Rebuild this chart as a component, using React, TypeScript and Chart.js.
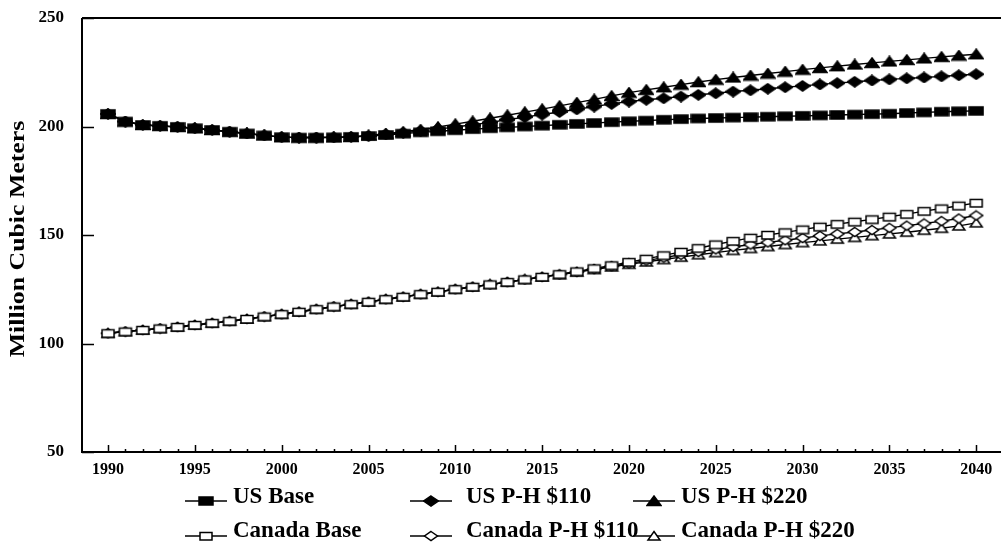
import React, { useEffect, useRef } from "react";
import { Chart, registerables } from "chart.js";

Chart.register(...registerables);

const years = [
  1990, 1991, 1992, 1993, 1994, 1995, 1996, 1997, 1998, 1999,
  2000, 2001, 2002, 2003, 2004, 2005, 2006, 2007, 2008, 2009,
  2010, 2011, 2012, 2013, 2014, 2015, 2016, 2017, 2018, 2019,
  2020, 2021, 2022, 2023, 2024, 2025, 2026, 2027, 2028, 2029,
  2030, 2031, 2032, 2033, 2034, 2035, 2036, 2037, 2038, 2039, 2040,
];
const xTickLabels = [1990, 1995, 2000, 2005, 2010, 2015, 2020, 2025, 2030, 2035, 2040];
const yTickLabels = [50, 100, 150, 200, 250];
const yAxisTitle = "Million Cubic Meters";

const usBase = [
  205.8, 202.3, 200.7, 200.3, 199.8, 199.2, 198.4, 197.6, 196.8, 195.9,
  195.1, 194.9, 194.9, 195.0, 195.2, 195.6, 196.1, 196.7, 197.3, 197.8,
  198.3, 198.8, 199.2, 199.6, 200.0, 200.4, 200.8, 201.2, 201.6, 202.0,
  202.4, 202.7, 203.1, 203.4, 203.7, 203.9, 204.1, 204.3, 204.5, 204.7,
  204.9, 205.1, 205.3, 205.5, 205.7, 205.9, 206.2, 206.5, 206.8, 207.0, 207.2,
];
const usPH110 = [
  205.8, 202.3, 200.7, 200.3, 199.8, 199.2, 198.4, 197.6, 196.8, 195.9,
  195.1, 194.9, 194.9, 195.0, 195.2, 195.6, 196.4, 197.1, 197.9, 198.8,
  199.8, 200.8, 201.9, 203.1, 204.3, 205.5, 206.7, 207.9, 209.2, 210.4,
  211.5, 212.3, 213.0, 213.8, 214.6, 215.3, 216.1, 216.7, 217.4, 218.1,
  218.7, 219.4, 220.0, 220.6, 221.2, 221.7, 222.2, 222.6, 223.1, 223.6, 224.1,
];
const usPH220 = [
  205.8, 202.3, 200.7, 200.3, 199.8, 199.2, 198.4, 197.6, 196.8, 195.9,
  195.1, 194.9, 194.9, 195.0, 195.2, 195.9, 196.7, 197.6, 198.6, 199.8,
  201.1, 202.4, 203.8, 205.2, 206.6, 208.0, 209.5, 211.0, 212.5, 214.1,
  215.6, 216.9, 218.1, 219.3, 220.5, 221.6, 222.6, 223.5, 224.4, 225.3,
  226.2, 227.0, 227.8, 228.6, 229.3, 230.0, 230.7, 231.4, 232.1, 232.7, 233.3,
];
const canadaBase = [
  104.7, 105.5, 106.2, 106.9, 107.6, 108.5, 109.4, 110.3, 111.3, 112.4,
  113.5, 114.6, 115.8, 117.0, 118.1, 119.2, 120.4, 121.5, 122.7, 123.8,
  125.0, 126.1, 127.2, 128.3, 129.5, 130.7, 131.9, 133.2, 134.6, 136.0,
  137.5, 139.0, 140.6, 142.2, 143.9, 145.6, 147.2, 148.7, 150.0, 151.2,
  152.5, 153.8, 155.0, 156.1, 157.2, 158.4, 159.6, 161.0, 162.2, 163.5, 164.8,
];
const canadaPH110 = [
  104.7, 105.5, 106.2, 106.9, 107.6, 108.5, 109.4, 110.3, 111.3, 112.4,
  113.5, 114.6, 115.8, 117.0, 118.1, 119.2, 120.4, 121.5, 122.7, 123.8,
  125.0, 126.1, 127.2, 128.3, 129.5, 130.7, 131.8, 133.0, 134.3, 135.6,
  136.9, 138.2, 139.6, 140.9, 142.2, 143.4, 144.5, 145.6, 146.6, 147.6,
  148.6, 149.6, 150.5, 151.4, 152.3, 153.3, 154.3, 155.3, 156.4, 157.6, 159.0,
];
const canadaPH220 = [
  104.7, 105.5, 106.2, 106.9, 107.6, 108.5, 109.4, 110.3, 111.3, 112.4,
  113.5, 114.6, 115.8, 117.0, 118.1, 119.2, 120.4, 121.5, 122.7, 123.8,
  125.0, 126.1, 127.2, 128.3, 129.5, 130.7, 131.7, 132.9, 134.1, 135.3,
  136.5, 137.6, 138.7, 139.8, 140.9, 141.9, 142.9, 143.8, 144.7, 145.6,
  146.5, 147.3, 148.1, 148.9, 149.7, 150.5, 151.3, 152.2, 153.1, 154.2, 155.6,
];

const seriesNames = [
  "US Base",
  "US P-H $110",
  "US P-H $220",
  "Canada Base",
  "Canada P-H $110",
  "Canada P-H $220",
];
const seriesValues = [usBase, usPH110, usPH220, canadaBase, canadaPH110, canadaPH220];
const seriesMarkers: Array<["square" | "diamond" | "triangle", boolean]> = [
  ["square", true],
  ["diamond", true],
  ["triangle", true],
  ["square", false],
  ["diamond", false],
  ["triangle", false],
];

const FONT = "'Liberation Serif', 'Times New Roman', serif";

function makeMarker(kind: "square" | "diamond" | "triangle", filled: boolean): HTMLCanvasElement {
  const w = 16;
  const h = 12;
  const c = document.createElement("canvas");
  c.width = w;
  c.height = h;
  const ctx = c.getContext("2d")!;
  ctx.beginPath();
  if (kind === "square") {
    if (filled) ctx.rect(1, 2, 14, 8);
    else ctx.rect(2, 2.5, 12, 7.5);
  } else if (kind === "diamond") {
    if (filled) {
      ctx.moveTo(8, 1);
      ctx.lineTo(15.5, 6);
      ctx.lineTo(8, 11);
      ctx.lineTo(0.5, 6);
    } else {
      ctx.moveTo(8, 1.5);
      ctx.lineTo(14.5, 6);
      ctx.lineTo(8, 10.5);
      ctx.lineTo(1.5, 6);
    }
    ctx.closePath();
  } else {
    if (filled) {
      ctx.moveTo(8, 1);
      ctx.lineTo(15, 10.5);
      ctx.lineTo(1, 10.5);
    } else {
      ctx.moveTo(8, 1.5);
      ctx.lineTo(14, 10);
      ctx.lineTo(2, 10);
    }
    ctx.closePath();
  }
  ctx.fillStyle = filled ? "#000" : "#fff";
  ctx.fill();
  ctx.lineWidth = 1.5;
  ctx.strokeStyle = "#000";
  ctx.stroke();
  return c;
}

export default function App() {
  const canvasRef = useRef<HTMLCanvasElement | null>(null);

  useEffect(() => {
    const canvas = canvasRef.current;
    if (!canvas) return;
    const markers = seriesMarkers.map(([k, f]) => makeMarker(k, f));

    const axesPlugin = {
      id: "customAxes",
      beforeDatasetsDraw(chart: any) {
        const { ctx, chartArea, scales } = chart;
        const xs = scales.x;
        const ys = scales.y;
        ctx.save();
        ctx.strokeStyle = "#000";
        ctx.lineWidth = 2;
        ctx.beginPath();
        ctx.moveTo(chartArea.left, chartArea.top);
        ctx.lineTo(chart.width, chartArea.top);
        ctx.moveTo(chartArea.left, chartArea.top);
        ctx.lineTo(chartArea.left, chartArea.bottom);
        ctx.lineTo(chart.width, chartArea.bottom);
        ctx.stroke();
        ctx.lineWidth = 1.5;
        ctx.beginPath();
        years.forEach((yr) => {
          const px = Math.round(xs.getPixelForValue(yr)) + 0.5;
          const len = yr % 5 === 0 ? 7 : 3;
          ctx.moveTo(px, chartArea.bottom);
          ctx.lineTo(px, chartArea.bottom - len);
        });
        yTickLabels.forEach((v) => {
          const py = Math.round(ys.getPixelForValue(v)) + 0.5;
          ctx.moveTo(chartArea.left, py);
          ctx.lineTo(chartArea.left + 12, py);
        });
        ctx.stroke();

        // y-axis title
        ctx.fillStyle = "#000";
        ctx.font = `bold 20px ${FONT}`;
        ctx.textAlign = "center";
        ctx.textBaseline = "middle";
        ctx.translate(19, 239);
        ctx.rotate(-Math.PI / 2);
        ctx.scale(1.29, 1);
        ctx.fillText(yAxisTitle, 0, 0);
        ctx.restore();
      },
      afterDraw(chart: any) {
        const { ctx } = chart;
        const lineStart = [185, 410, 633];
        const lineEnd = [227, 452, 675];
        const textX = [233, 466, 681];
        const markerY = [501, 536];
        const textY = [497, 531];
        ctx.save();
        ctx.font = `bold 23px ${FONT}`;
        ctx.fillStyle = "#000";
        ctx.strokeStyle = "#000";
        ctx.textAlign = "left";
        ctx.textBaseline = "middle";
        seriesNames.forEach((name, i) => {
          const col = i % 3;
          const row = Math.floor(i / 3);
          const y = markerY[row];
          ctx.lineWidth = 1.5;
          ctx.beginPath();
          ctx.moveTo(lineStart[col], y);
          ctx.lineTo(lineEnd[col], y);
          ctx.stroke();
          const m = markers[i];
          const cx = (lineStart[col] + lineEnd[col]) / 2;
          ctx.drawImage(m, cx - m.width / 2, y - m.height / 2);
          ctx.fillText(name, textX[col], textY[row]);
        });
        ctx.restore();
      },
    };

    const chart = new Chart(canvas, {
      type: "line",
      data: {
        datasets: seriesNames.map((name, i) => ({
          label: name,
          data: years.map((yr, j) => ({ x: yr, y: seriesValues[i][j] })),
          borderColor: "#000",
          backgroundColor: "#000",
          borderWidth: 1.4,
          pointStyle: markers[i],
          pointRadius: 6,
          pointHoverRadius: 6,
          tension: 0,
          fill: false,
        })),
      },
      options: {
        responsive: false,
        animation: false,
        events: [],
        layout: { padding: { top: 18, left: 0, right: 0, bottom: 0 } },
        plugins: {
          legend: { display: false },
          tooltip: { enabled: false },
          title: { display: false },
        },
        scales: {
          x: {
            type: "linear",
            min: 1988.5,
            max: 2041.0,
            grid: { display: false, drawTicks: false },
            border: { display: false },
            afterBuildTicks: (scale: any) => {
              scale.ticks = xTickLabels.map((v) => ({ value: v }));
            },
            afterFit: (scale: any) => {
              scale.height = 96;
              scale.paddingLeft = 0;
              scale.paddingRight = 0;
            },
            ticks: {
              color: "#000",
              font: { family: FONT, size: 16, weight: "bold" },
              padding: 8,
              maxRotation: 0,
              autoSkip: false,
              callback: (v: any) => String(v),
            },
          },
          y: {
            type: "linear",
            min: 50,
            max: 250,
            grid: { display: false, drawTicks: false },
            border: { display: false },
            afterBuildTicks: (scale: any) => {
              scale.ticks = yTickLabels.map((v) => ({ value: v }));
            },
            afterFit: (scale: any) => {
              scale.width = 82;
              scale.paddingTop = 0;
              scale.paddingBottom = 0;
            },
            ticks: {
              color: "#000",
              font: { family: FONT, size: 17, weight: "bold" },
              padding: 18,
              callback: (v: any) => String(v),
            },
          },
        },
      },
      plugins: [axesPlugin],
    });

    return () => {
      chart.destroy();
    };
  }, []);

  return (
    <div style={{ position: "absolute", left: 0, top: 0, width: 1001, height: 548, background: "#fff" }}>
      <canvas ref={canvasRef} width={1001} height={548} style={{ display: "block", width: 1001, height: 548 }} />
    </div>
  );
}
